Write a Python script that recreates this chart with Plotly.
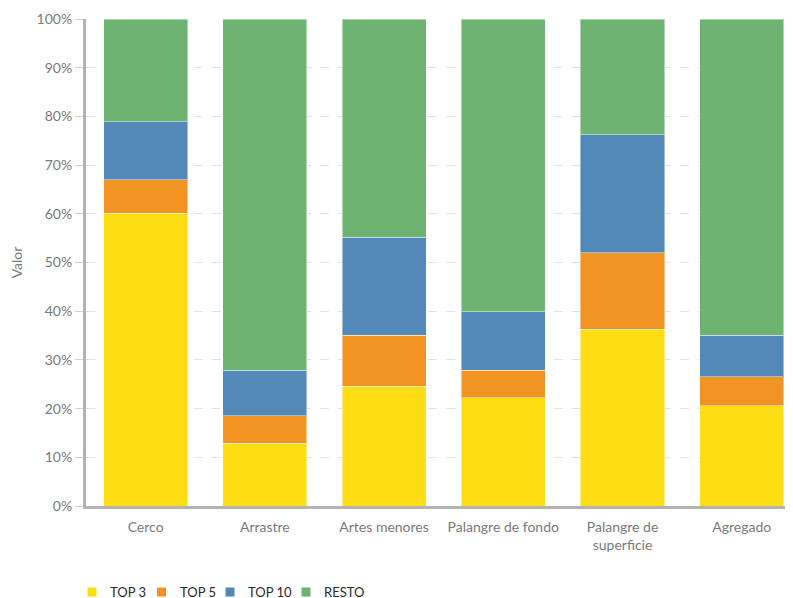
import plotly.graph_objects as go

categories = ["Cerco", "Arrastre", "Artes menores", "Palangre de fondo", "Palangre de<br>superficie", "Agregado"]
# cumulative shares (%)
top3_cum = [60.1, 12.9, 24.6, 22.2, 36.3, 20.6]
top5_cum = [67.0, 18.5, 35.1, 27.9, 52.0, 26.5]
top10_cum = [78.9, 27.9, 55.2, 39.9, 76.2, 35.1]
total = [100, 100, 100, 100, 100, 100]
tick_vals = [0, 10, 20, 30, 40, 50, 60, 70, 80, 90, 100]
tick_text = [f"{v}%" for v in tick_vals]
series_names = ["TOP 3", "TOP 5", "TOP 10", "RESTO"]
series_colors = ["#FEDD14", "#F29423", "#5289B8", "#6FB373"]

seg_top3 = top3_cum
seg_top5 = [b - a for a, b in zip(top3_cum, top5_cum)]
seg_top10 = [b - a for a, b in zip(top5_cum, top10_cum)]
seg_resto = [b - a for a, b in zip(top10_cum, total)]
segments = [seg_top3, seg_top5, seg_top10, seg_resto]

# figure geometry (page is offset by 8px body margin)
W, H = 785, 590
ML, MR, MT, MB = 78, 0, 11, 92
PW, PH = W - ML - MR, H - MT - MB


def px_to_paper_x(px):
    return (px - 8 - ML) / PW


def px_to_paper_y(py):
    return (H - MB - (py - 8)) / PH


fig = go.Figure()
xs = list(range(len(categories)))
for name, vals, color in zip(series_names, segments, series_colors):
    fig.add_trace(go.Bar(
        x=xs, y=vals, name=name, width=0.705,
        marker=dict(color=color, line=dict(color="rgba(255,255,255,0.45)", width=1)),
        hovertemplate="%{y:.1f}%<extra>" + name + "</extra>",
        showlegend=False,
    ))

# manual legend (square + label) to mimic the compact original legend
legend_sq_x = [92, 161.5, 230, 306]
legend_y = 592
shapes = []
annotations = []
for name, color, cx in zip(series_names, series_colors, legend_sq_x):
    shapes.append(dict(
        type="rect", xref="paper", yref="paper",
        x0=px_to_paper_x(cx - 4.5), x1=px_to_paper_x(cx + 4.5),
        y0=px_to_paper_y(legend_y + 4.5), y1=px_to_paper_y(legend_y - 4.5),
        fillcolor=color, line=dict(width=0),
    ))
    annotations.append(dict(
        text=name, xref="paper", yref="paper",
        x=px_to_paper_x(cx + 16), y=px_to_paper_y(legend_y),
        xanchor="left", yanchor="middle", showarrow=False,
        font=dict(family="Lato", size=13, color="#2a2a2a"),
    ))

fig.update_layout(
    barmode="stack",
    width=W, height=H,
    margin=dict(l=ML, r=MR, t=MT, b=MB, autoexpand=False),
    plot_bgcolor="white", paper_bgcolor="white",
    font=dict(family="Lato", size=14, color="#7a7a7a"),
    showlegend=False,
    shapes=shapes,
    annotations=annotations,
    xaxis=dict(
        tickmode="array", tickvals=xs, ticktext=categories,
        range=[-0.5, 5.43], showgrid=False,
        showline=True, linecolor="#b3b3b3", linewidth=3,
        ticks="", tickfont=dict(size=14, color="#7a7a7a"),
        ticklabelstandoff=6,
        zeroline=False, automargin=False,
    ),
    yaxis=dict(
        range=[0, 100], tickmode="array", tickvals=tick_vals, ticktext=tick_text,
        showgrid=True, gridcolor="#e3e3e3", griddash="dash", gridwidth=1,
        showline=True, linecolor="#b3b3b3", linewidth=3,
        ticks="outside", ticklen=8, tickcolor="#d0d0d0", tickwidth=1,
        tickfont=dict(size=14, color="#7a7a7a"),
        title=dict(text="Valor", font=dict(size=14, color="#7a7a7a"), standoff=14),
        zeroline=False, automargin=False,
    ),
)

fig.write_html("out.html")
